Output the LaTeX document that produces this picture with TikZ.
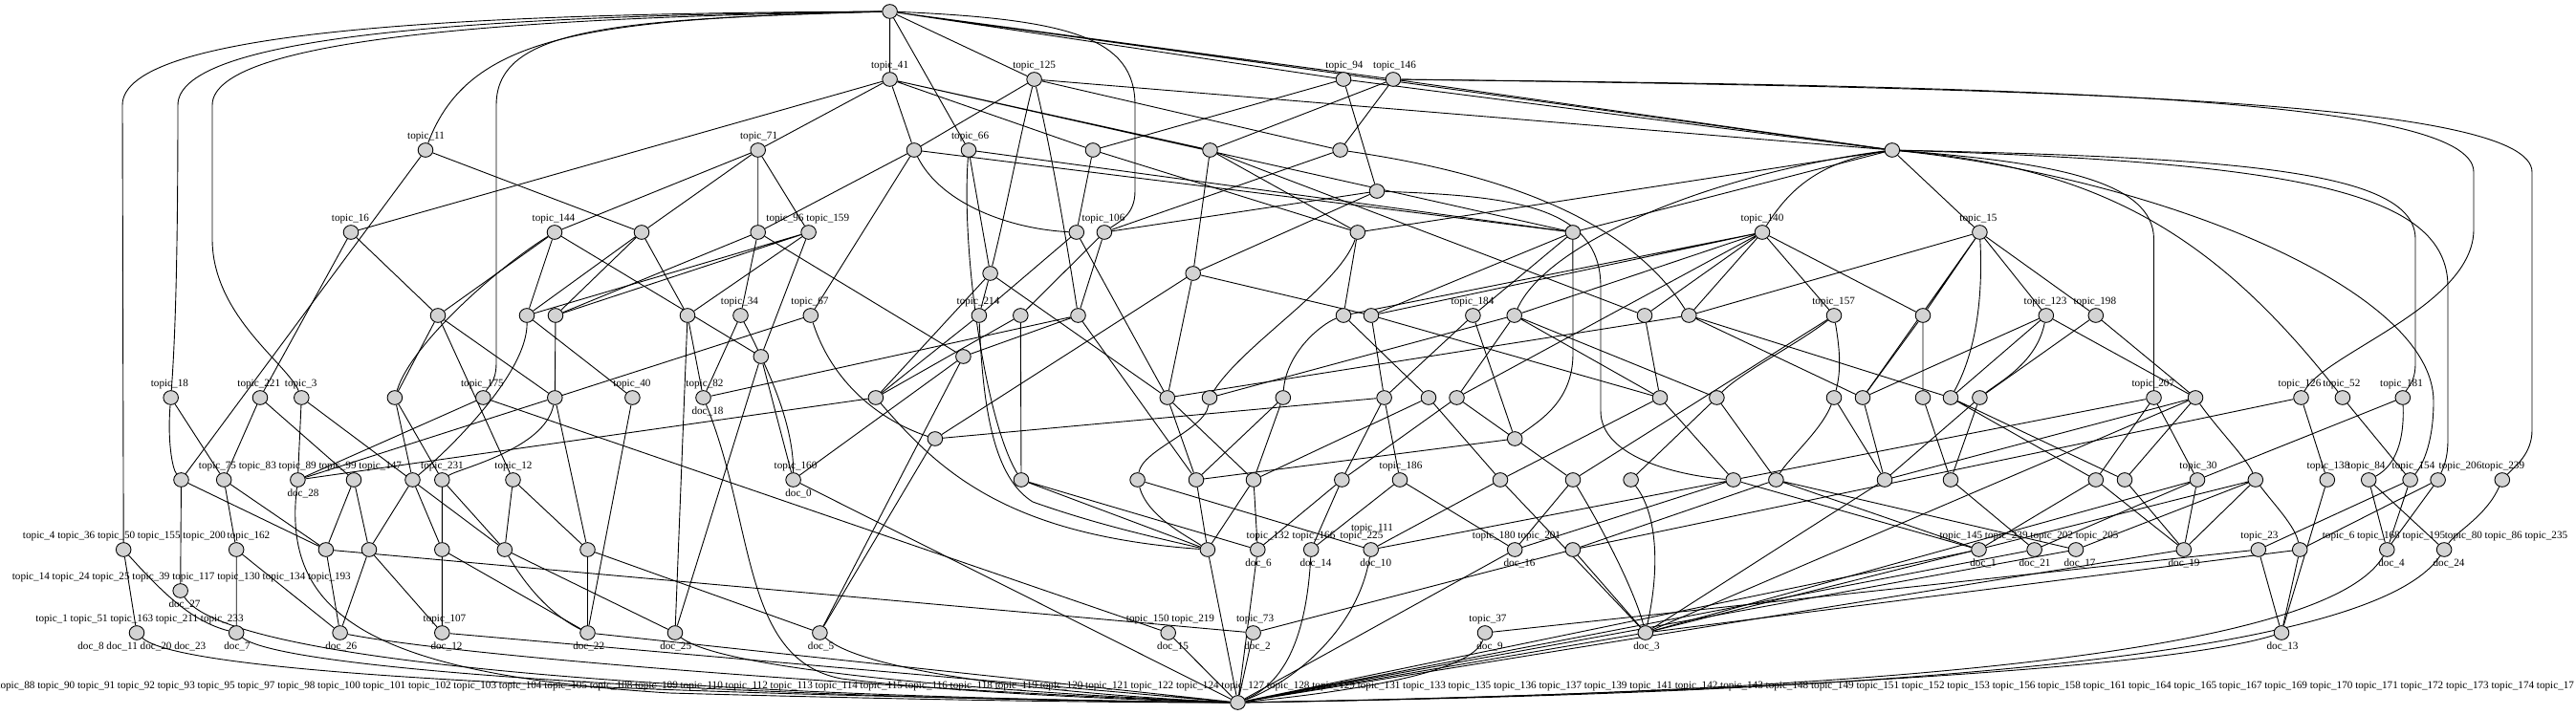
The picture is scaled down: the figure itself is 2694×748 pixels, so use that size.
\documentclass[tikz,border=0pt]{standalone}
\usepackage{fontspec}
\setmainfont{Liberation Serif}
\usetikzlibrary{shapes.geometric}
\pgfdeclarelayer{bg}
\pgfsetlayers{bg,main}
\definecolor{ndfill}{HTML}{D3D3D3}
\newcommand{\lblfont}{\fontsize{5.58pt}{6pt}\selectfont}
\tikzset{
  nd/.style={ellipse, draw=black, line width=0.45pt, fill=ndfill, minimum width=7.8pt, minimum height=7.35pt, inner sep=0pt},
  lab/.style={inner sep=0pt, font=\lblfont, text height=3.9pt, text depth=1.1pt},
  ed/.style={line width=0.45pt, draw=black}
}
\begin{document}
\begin{tikzpicture}[x=0.5pt,y=-0.5pt]
\useasboundingbox (0,0) rectangle (2694,748);
% ---------- nodes ----------
\node[nd] (R) at (930.6,12) {};
\node[nd] (t41) at (930.6,83) {};
\node[nd] (t125) at (1081.6,83) {};
\node[nd] (t94) at (1405,83) {};
\node[nd] (t146) at (1457,83) {};
\node[nd] (t11) at (445,157) {};
\node[nd] (t71) at (792.7,157) {};
\node[nd] (a1) at (956,157) {};
\node[nd] (t66) at (1013,157) {};
\node[nd] (a2) at (1143,157) {};
\node[nd] (a3) at (1265.5,157) {};
\node[nd] (a4) at (1401.6,157) {};
\node[nd] (H) at (1978.8,157) {};
\node[nd] (a5) at (1440,200) {};
\node[nd] (t16) at (367,243) {};
\node[nd] (t144) at (580,243) {};
\node[nd] (b1) at (671,243) {};
\node[nd] (t96) at (792.7,243) {};
\node[nd] (t159) at (845.6,243) {};
\node[nd] (b2) at (1125.8,243) {};
\node[nd] (t106) at (1154.9,243) {};
\node[nd] (b3) at (1419.8,243) {};
\node[nd] (b4) at (1644.9,243) {};
\node[nd] (t140) at (1843,243) {};
\node[nd] (t15) at (2070.4,243) {};
\node[nd] (c1) at (1035.6,286) {};
\node[nd] (c2) at (1247.7,286) {};
\node[nd] (d1) at (458,330) {};
\node[nd] (d2) at (551,330) {};
\node[nd] (d3) at (581,330) {};
\node[nd] (d4) at (719,330) {};
\node[nd] (t34) at (774.5,330) {};
\node[nd] (t67) at (847.8,330) {};
\node[nd] (t214) at (1023.9,330) {};
\node[nd] (d5) at (1067.3,330) {};
\node[nd] (d6) at (1127.5,330) {};
\node[nd] (d7) at (1405,330) {};
\node[nd] (d8) at (1434,330) {};
\node[nd] (t184) at (1540.4,330) {};
\node[nd] (d9) at (1583.7,330) {};
\node[nd] (d10) at (1720,330) {};
\node[nd] (d11) at (1766.3,330) {};
\node[nd] (t157) at (1918,330) {};
\node[nd] (d12) at (2011,330) {};
\node[nd] (t123) at (2139.8,330) {};
\node[nd] (t198) at (2191.8,330) {};
\node[nd] (e1) at (795.8,373) {};
\node[nd] (e2) at (1007.4,373) {};
\node[nd] (t18) at (178.7,416) {};
\node[nd] (t221) at (272,416) {};
\node[nd] (t3) at (315.3,416) {};
\node[nd] (f1) at (412.9,416) {};
\node[nd] (t175) at (505.3,416) {};
\node[nd] (f2) at (580.3,416) {};
\node[nd] (t40) at (661.4,416) {};
\node[nd] (t82) at (735.5,416) {};
\node[nd] (f3) at (915.9,416) {};
\node[nd] (f4) at (1220.8,416) {};
\node[nd] (f5) at (1265,416) {};
\node[nd] (f6) at (1341.8,416) {};
\node[nd] (f7) at (1447.6,416) {};
\node[nd] (f8) at (1494,416) {};
\node[nd] (f9) at (1523.5,416) {};
\node[nd] (f10) at (1736,416) {};
\node[nd] (f11) at (1795.4,416) {};
\node[nd] (f12) at (1918,416) {};
\node[nd] (f13) at (1948,416) {};
\node[nd] (f14) at (2011,416) {};
\node[nd] (f15) at (2040,416) {};
\node[nd] (f16) at (2070.4,416) {};
\node[nd] (t207) at (2252.5,416) {};
\node[nd] (f17) at (2296,416) {};
\node[nd] (t126) at (2406.5,416) {};
\node[nd] (t52) at (2449.9,416) {};
\node[nd] (t181) at (2512.8,416) {};
\node[nd] (g1) at (977.9,459) {};
\node[nd] (g2) at (1584.2,459) {};
\node[nd] (h1) at (189.5,502) {};
\node[nd] (h2) at (234.2,502) {};
\node[nd] (h3) at (311.4,502) {};
\node[nd] (h4) at (370,502) {};
\node[nd] (h5) at (431.5,502) {};
\node[nd] (h6) at (462.3,502) {};
\node[nd] (h7) at (536.5,502) {};
\node[nd] (t160) at (829.6,502) {};
\node[nd] (h8) at (1068,502) {};
\node[nd] (h9) at (1189.6,502) {};
\node[nd] (h10) at (1251,502) {};
\node[nd] (h11) at (1311,502) {};
\node[nd] (h12) at (1403.3,502) {};
\node[nd] (t186) at (1464,502) {};
\node[nd] (h13) at (1569,502) {};
\node[nd] (h14) at (1645,502) {};
\node[nd] (h15) at (1705.6,502) {};
\node[nd] (h16) at (1812.7,502) {};
\node[nd] (h17) at (1857.4,502) {};
\node[nd] (h18) at (1971,502) {};
\node[nd] (h19) at (2040,502) {};
\node[nd] (h20) at (2191.8,502) {};
\node[nd] (h21) at (2222,502) {};
\node[nd] (t30) at (2298,502) {};
\node[nd] (h22) at (2358.8,502) {};
\node[nd] (t138) at (2433.8,502) {};
\node[nd] (h23) at (2477.2,502) {};
\node[nd] (h24) at (2520.6,502) {};
\node[nd] (h25) at (2549.6,502) {};
\node[nd] (h26) at (2616.8,502) {};
\node[nd] (i1) at (129.2,575) {};
\node[nd] (i2) at (247.2,575) {};
\node[nd] (i3) at (340.9,575) {};
\node[nd] (i4) at (386,575) {};
\node[nd] (i5) at (462.3,575) {};
\node[nd] (i6) at (527.8,575) {};
\node[nd] (i7) at (614.5,575) {};
\node[nd] (i8) at (1262.9,575) {};
\node[nd] (doc6) at (1315.3,575) {};
\node[nd] (doc14) at (1371.2,575) {};
\node[nd] (doc10) at (1433.7,575) {};
\node[nd] (doc16) at (1584.2,575) {};
\node[nd] (i9) at (1644.9,575) {};
\node[nd] (doc1) at (2069.5,575) {};
\node[nd] (doc21) at (2127.6,575) {};
\node[nd] (doc17) at (2171,575) {};
\node[nd] (doc19) at (2283.8,575) {};
\node[nd] (i10) at (2361.8,575) {};
\node[nd] (i11) at (2405.2,575) {};
\node[nd] (doc4) at (2496.3,575) {};
\node[nd] (doc24) at (2556.1,575) {};
\node[nd] (doc27) at (188.7,618) {};
\node[nd] (j1) at (143,662) {};
\node[nd] (doc7) at (247.2,662) {};
\node[nd] (doc26) at (355.6,662) {};
\node[nd] (doc12) at (462.3,662) {};
\node[nd] (doc22) at (614.5,662) {};
\node[nd] (doc25) at (706,662) {};
\node[nd] (doc5) at (857.4,662) {};
\node[nd] (doc15) at (1221.7,662) {};
\node[nd] (doc2) at (1310.6,662) {};
\node[nd] (doc9) at (1553,662) {};
\node[nd] (doc3) at (1720.8,662) {};
\node[nd] (doc13) at (2386,662) {};
\node[nd] (S) at (1294.5,735) {};
% ---------- labels ----------
\node[lab] (l1) at (930.6,68.5) {topic\_41};
\node[lab] (l2) at (1081.6,68.5) {topic\_125};
\node[lab] (l3) at (1406,68.5) {topic\_94};
\node[lab] (l4) at (1458.5,68.5) {topic\_146};
\node[lab] (l5) at (445.5,142.5) {topic\_11};
\node[lab] (l6) at (793.6,142.5) {topic\_71};
\node[lab] (l7) at (1014.6,142.5) {topic\_66};
\node[lab] (l8) at (366.5,228.5) {topic\_16};
\node[lab] (l9) at (579,228.5) {topic\_144};
\node[lab] (l10) at (821,228.5) {topic\_96};
\node[lab] (l11) at (865.8,228.5) {topic\_159};
\node[lab] (l12) at (1154,228.5) {topic\_106};
\node[lab] (l13) at (1843,228.5) {topic\_140};
\node[lab] (l14) at (2069,228.5) {topic\_15};
\node[lab] (l15) at (773.5,315.5) {topic\_34};
\node[lab] (l16) at (847,315.5) {topic\_67};
\node[lab] (l17) at (1023,315.5) {topic\_214};
\node[lab] (l18) at (1540,315.5) {topic\_184};
\node[lab] (l19) at (1917.6,315.5) {topic\_157};
\node[lab] (l20) at (2139,315.5) {topic\_123};
\node[lab] (l21) at (2190.8,315.5) {topic\_198};
\node[lab] (l22) at (177.4,401.5) {topic\_18};
\node[lab] (l23) at (270.8,401.5) {topic\_221};
\node[lab] (l24) at (314.7,401.5) {topic\_3};
\node[lab] (l25) at (504.4,401.5) {topic\_175};
\node[lab] (l26) at (661,401.5) {topic\_40};
\node[lab] (l27) at (737,401.5) {topic\_82};
\node[lab] (l28) at (740,431) {doc\_18};
\node[lab] (l29) at (2251.8,401.5) {topic\_207};
\node[lab] (l30) at (2405,401.5) {topic\_126};
\node[lab] (l31) at (2448.8,401.5) {topic\_52};
\node[lab] (l32) at (2511.5,401.5) {topic\_181};
\node[lab] (l33) at (314,487.5) {topic\_75 topic\_83 topic\_89 topic\_99 topic\_147};
\node[lab] (l34) at (317,517) {doc\_28};
\node[lab] (l35) at (462.5,487.5) {topic\_231};
\node[lab] (l36) at (537,487.5) {topic\_12};
\node[lab] (l37) at (832,487.5) {topic\_160};
\node[lab] (l38) at (835,517) {doc\_0};
\node[lab] (l39) at (1465,487.5) {topic\_186};
\node[lab] (l40) at (2299,487.5) {topic\_30};
\node[lab] (l41) at (2435,487.5) {topic\_138};
\node[lab] (l42) at (2475,487.5) {topic\_84};
\node[lab] (l43) at (2524,487.5) {topic\_154};
\node[lab] (l44) at (2573,487.5) {topic\_206};
\node[lab] (l45) at (2617.8,487.5) {topic\_239};
\node[lab] (l46) at (130,560.5) {topic\_4 topic\_36 topic\_50 topic\_155 topic\_200};
\node[lab] (l47) at (260,560.5) {topic\_162};
\node[lab] (l48) at (1326,560.5) {topic\_132};
\node[lab] (l49) at (1316,590) {doc\_6};
\node[lab] (l50) at (1374,560.5) {topic\_166};
\node[lab] (l51) at (1376,590) {doc\_14};
\node[lab] (l52) at (1424,560.5) {topic\_225};
\node[lab] (l53) at (1435,552.5) {topic\_111};
\node[lab] (l54) at (1438.7,590) {doc\_10};
\node[lab] (l55) at (1586,560.5) {topic\_180 topic\_201};
\node[lab] (l56) at (1589,590) {doc\_16};
\node[lab] (l57) at (2122,560.5) {topic\_145 topic\_239 topic\_202 topic\_205};
\node[lab] (l58) at (2074,590) {doc\_1};
\node[lab] (l59) at (2128,590) {doc\_21};
\node[lab] (l60) at (2175,590) {doc\_17};
\node[lab] (l61) at (2284,590) {doc\_19};
\node[lab] (l62) at (2363,560.5) {topic\_23};
\node[lab] (l63) at (2493,560.5) {topic\_6 topic\_168 topic\_195};
\node[lab] (l64) at (2621,560.5) {topic\_80 topic\_86 topic\_235};
\node[lab] (l65) at (2501,590) {doc\_4};
\node[lab] (l66) at (2561,590) {doc\_24};
\node[lab] (l67) at (189.8,603.5) {topic\_14 topic\_24 topic\_25 topic\_39 topic\_117 topic\_130 topic\_134 topic\_193};
\node[lab] (l68) at (193,632.5) {doc\_27};
\node[lab] (l69) at (146,647.5) {topic\_1 topic\_51 topic\_163 topic\_211 topic\_233};
\node[lab] (l70) at (148.3,677) {doc\_8 doc\_11 doc\_20 doc\_23};
\node[lab] (l71) at (248,677) {doc\_7};
\node[lab] (l72) at (356.8,677) {doc\_26};
\node[lab] (l73) at (465,647.5) {topic\_107};
\node[lab] (l74) at (467,677) {doc\_12};
\node[lab] (l75) at (615.7,677) {doc\_22};
\node[lab] (l76) at (706.7,677) {doc\_25};
\node[lab] (l77) at (858.6,677) {doc\_5};
\node[lab] (l78) at (1224,647.5) {topic\_150 topic\_219};
\node[lab] (l79) at (1226.6,677) {doc\_15};
\node[lab] (l80) at (1312.6,647.5) {topic\_73};
\node[lab] (l81) at (1315,677) {doc\_2};
\node[lab] (l82) at (1556,647.5) {topic\_37};
\node[lab] (l83) at (1558,677) {doc\_9};
\node[lab] (l84) at (1722,677) {doc\_3};
\node[lab] (l85) at (2387,677) {doc\_13};
\node[lab, anchor=west] (l86) at (-3,718) {topic\_88 topic\_90 topic\_91 topic\_92 topic\_93 topic\_95 topic\_97 topic\_98 topic\_100 topic\_101 topic\_102 topic\_103 topic\_104 topic\_105 topic\_108 topic\_109 topic\_110 topic\_112 topic\_113 topic\_114 topic\_115 topic\_116 topic\_118 topic\_119 topic\_120 topic\_121 topic\_122 topic\_124 topic\_127 topic\_128 topic\_129 topic\_131 topic\_133 topic\_135 topic\_136 topic\_137 topic\_139 topic\_141 topic\_142 topic\_143 topic\_148 topic\_149 topic\_151 topic\_152 topic\_153 topic\_156 topic\_158 topic\_161 topic\_164 topic\_165 topic\_167 topic\_169 topic\_170 topic\_171 topic\_172 topic\_173 topic\_174 topic\_17};
% ---------- edges ----------
\begin{pgfonlayer}{bg}
\draw[ed] (R) -- (t41) (R) -- (t66) (R) -- (t125) (R) -- (t94) (R) -- (t146) (R) -- (H);
\draw[ed] (R) .. controls (500,14) and (128,30) .. (128,110) -- (i1);
\draw[ed] (R) .. controls (520,16) and (186,35) .. (186,110) .. controls (186,300) and (182,370) .. (t18);
\draw[ed] (R) .. controls (560,18) and (222,38) .. (222,110) -- (222,250) .. controls (222,330) and (300,380) .. (t3);
\draw[ed] (R) .. controls (620,20) and (490,35) .. (t11);
\draw[ed] (R) .. controls (640,20) and (519,30) .. (519,110) -- (519,380) .. controls (519,400) and (510,405) .. (t175);
\draw[ed] (R) .. controls (1120,20) and (1187,40) .. (1187,110) -- (1187,200) .. controls (1187,225) and (1170,232) .. (t106);
% level 1
\draw[ed] (t41) -- (t16) (t41) -- (t71) (t41) -- (a1) (t41) -- (a2) (t41) -- (a3) (t41) -- (b4);
\draw[ed] (t125) -- (a1) (t125) -- (a4) (t125) -- (H);
\draw[ed] (t125) .. controls (1065,150) and (1050,230) .. (c1);
\draw[ed] (t125) .. controls (1100,160) and (1115,250) .. (d6);
\draw[ed] (t94) -- (a2) (t94) -- (a5) (t94) -- (H);
\draw[ed] (t146) -- (a3) (t146) -- (a4) (t146) -- (H);
\draw[ed] (t146) .. controls (2100,90) and (2587,100) .. (2587,180) -- (2587,240) .. controls (2587,320) and (2430,370) .. (t126);
\draw[ed] (t146) .. controls (2150,92) and (2648,105) .. (2648,180) -- (2648,450) .. controls (2648,475) and (2630,488) .. (h26);
% level 2
\draw[ed] (t11) -- (b1) (t11) -- (h1);
\draw[ed] (t71) -- (t144) (t71) -- (b1) (t71) -- (t96) (t71) -- (t159);
\draw[ed] (a1) -- (t96) (a1) -- (t67) (a1) -- (b4);
\draw[ed] (a1) .. controls (985,215) and (1060,240) .. (b2);
\draw[ed] (t66) -- (c1) (t66) -- (b4);
\draw[ed] (t66) .. controls (1005,260) and (1030,440) .. (h8);
\draw[ed] (a2) -- (b2) (a2) -- (b3);
\draw[ed] (a3) -- (c2) (a3) -- (b3) (a3) -- (d10);
\draw[ed] (a4) -- (t106);
\draw[ed] (a4) .. controls (1560,180) and (1700,225) .. (d11);
\draw[ed] (a5) -- (t106) (a5) -- (c2);
\draw[ed] (a5) .. controls (1580,205) and (1674,215) .. (1674,300) -- (1674,430) .. controls (1674,480) and (1760,498) .. (h16);
\draw[ed] (H) -- (b3) (H) -- (b4) (H) -- (t15);
\draw[ed] (H) .. controls (1800,180) and (1620,250) .. (d9);
\draw[ed] (H) .. controls (1900,170) and (1870,200) .. (t140);
\draw[ed] (H) .. controls (2150,170) and (2252,190) .. (2252.5,250) -- (t207);
\draw[ed] (H) .. controls (2200,175) and (2320,250) .. (t52);
\draw[ed] (H) .. controls (2250,185) and (2545,300) .. (2545,420) .. controls (2545,460) and (2535,485) .. (h24);
\draw[ed] (H) .. controls (2350,165) and (2526,180) .. (2526,250) -- (2526,380) .. controls (2526,400) and (2518,405) .. (t181);
\draw[ed] (H) .. controls (2400,170) and (2560,200) .. (2560,300) -- (2560,460) .. controls (2560,480) and (2555,490) .. (h25);
% level 3
\draw[ed] (t16) -- (t221) (t16) -- (d1);
\draw[ed] (t144) -- (d1) (t144) -- (d2) (t144) -- (e1);
\draw[ed] (t144) .. controls (520,280) and (430,360) .. (f1);
\draw[ed] (b1) -- (d3) (b1) -- (d2) (b1) -- (d4);
\draw[ed] (t96) -- (t34) (t96) -- (e2) (t96) -- (d3);
\draw[ed] (t159) -- (d3) (t159) -- (d2) (t159) -- (d4) (t159) -- (e1);
\draw[ed] (b2) -- (f4) (b2) -- (t214);
\draw[ed] (t106) -- (d5) (t106) -- (d6);
\draw[ed] (b3) -- (d7);
\draw[ed] (b3) .. controls (1400,300) and (1300,360) .. (f5);
\draw[ed] (b4) -- (d8) (b4) -- (t184);
\draw[ed] (b4) -- (1645,370) .. controls (1645,420) and (1610,440) .. (g2);
\draw[ed] (t140) -- (d7) (t140) -- (d8) (t140) -- (d9) (t140) -- (d10) (t140) -- (d11) (t140) -- (t157) (t140) -- (f9) (t140) -- (d12);
\draw[ed] (t15) -- (t123) (t15) -- (t198) (t15) -- (d11) (t15) -- (d12) (t15) -- (f13);
\draw[ed] (t15) .. controls (2075,330) and (2060,380) .. (f15);
\draw[ed] (c1) -- (f3) (c1) -- (f4) (c1) -- (t214);
\draw[ed] (c2) -- (g1) (c2) -- (f4) (c2) -- (d8);
% level 4
\draw[ed] (d1) -- (f1) (d1) -- (h7) (d1) -- (f2);
\draw[ed] (d2) .. controls (552,390) and (470,470) .. (h5);
\draw[ed] (d2) -- (t40) (d3) -- (f2);
\draw[ed] (d4) -- (t82) (d4) -- (doc25);
\draw[ed] (t34) -- (t82);
\draw[ed] (t34) .. controls (800,380) and (830,440) .. (t160);
\draw[ed] (t67) -- (f2);
\draw[ed] (t67) .. controls (870,400) and (920,440) .. (g1);
\draw[ed] (t214) -- (f3);
\draw[ed] (t214) .. controls (1028,430) and (1040,500) .. (1080,525) .. controls (1150,550) and (1220,565) .. (i8);
\draw[ed] (d5) -- (h8) (d5) -- (f3);
\draw[ed] (d6) -- (e2) (d6) -- (t82) (d6) -- (h10);
\draw[ed] (e1) -- (t160) (e1) -- (doc25);
\draw[ed] (e2) -- (t160) (e2) -- (doc5);
\draw[ed] (d7) -- (f8);
\draw[ed] (d8) -- (f7) (d8) -- (f10);
\draw[ed] (t184) -- (f7) (t184) -- (g2);
\draw[ed] (d9) -- (f9) (d9) -- (f10) (d9) -- (f11);
\draw[ed] (d10) -- (f10);
\draw[ed] (d11) -- (f4) (d11) -- (f13) (d11) -- (f15);
\draw[ed] (t157) .. controls (1925,370) and (1925,390) .. (f12);
\draw[ed] (t157) .. controls (1880,360) and (1820,390) .. (f11);
\draw[ed] (t157) -- (h14);
\draw[ed] (d12) -- (f13) (d12) -- (f14);
\draw[ed] (t123) -- (f15) (t123) -- (f17) (t123) -- (f13);
\draw[ed] (t123) .. controls (2130,380) and (2090,400) .. (f16);
\draw[ed] (t198) -- (f16) (t198) -- (f17);
% level 5
\draw[ed] (t18) .. controls (175,460) and (180,490) .. (h1);
\draw[ed] (t18) -- (h2) (t221) -- (h2) (t221) -- (h4) (t3) -- (h3) (t3) -- (i6);
\draw[ed] (f1) -- (h5) (f1) -- (h6);
\draw[ed] (t175) -- (h3) (t175) -- (doc15);
\draw[ed] (f2) -- (h3) (f2) -- (i7);
\draw[ed] (f2) .. controls (570,470) and (480,490) .. (h6);
\draw[ed] (t40) -- (doc22);
\draw[ed] (f3) -- (h3);
\draw[ed] (f3) .. controls (980,490) and (1050,560) .. (i8);
\draw[ed] (g1) -- (doc5);
\draw[ed] (f4) -- (h10) (f4) -- (h11);
\draw[ed] (f5) -- (d9);
\draw[ed] (f5) .. controls (1260,450) and (1195,470) .. (h9);
\draw[ed] (f6) -- (h10) (f6) -- (h11);
\draw[ed] (f6) .. controls (1345,370) and (1380,340) .. (d7);
\draw[ed] (f7) -- (t186) (f7) -- (h12) (f7) -- (g1);
\draw[ed] (f8) -- (h13) (f8) -- (h11);
\draw[ed] (f9) -- (h12) (f9) -- (h14);
\draw[ed] (g2) -- (h10);
\draw[ed] (f10) -- (h13) (f10) -- (h16);
\draw[ed] (f11) -- (h15) (f11) -- (h17);
\draw[ed] (f12) -- (h18);
\draw[ed] (f12) .. controls (1905,450) and (1870,480) .. (h17);
\draw[ed] (f13) -- (h18) (f14) -- (h19);
\draw[ed] (f15) -- (h20) (f15) -- (h21);
\draw[ed] (f16) -- (h19) (f16) -- (h18);
\draw[ed] (t207) -- (t30) (t207) -- (h20) (t207) -- (h16);
\draw[ed] (f17) -- (h21) (f17) -- (h18) (f17) -- (doc3);
\draw[ed] (f17) .. controls (2320,450) and (2350,480) .. (h22);
\draw[ed] (t126) -- (t138) (t126) -- (i9);
\draw[ed] (t52) -- (h24);
\draw[ed] (t181) -- (t30);
\draw[ed] (t181) .. controls (2515,470) and (2500,490) .. (h23);
% level 6
\draw[ed] (h1) -- (doc27) (h1) -- (i3) (h2) -- (i2) (h2) -- (i3);
\draw[ed] (h4) -- (i3) (h4) -- (i4) (h5) -- (i4) (h5) -- (i5);
\draw[ed] (h6) -- (i5) (h6) -- (i6) (h7) -- (i6) (h7) -- (i7);
\draw[ed] (h8) -- (doc6) (h8) -- (i8);
\draw[ed] (h9) .. controls (1200,540) and (1240,560) .. (i8);
\draw[ed] (h9) -- (doc10) (h10) -- (i8) (h11) -- (i8) (h11) -- (doc6);
\draw[ed] (h12) -- (doc14) (h12) -- (doc6);
\draw[ed] (t186) -- (doc14) (t186) -- (doc16);
\draw[ed] (h13) -- (doc10) (h13) -- (doc3);
\draw[ed] (h14) -- (doc16);
\draw[ed] (h14) .. controls (1680,560) and (1710,620) .. (doc3);
\draw[ed] (h15) .. controls (1735,540) and (1735,600) .. (doc3);
\draw[ed] (h16) -- (doc1) (h16) -- (doc10) (h16) -- (doc16);
\draw[ed] (h17) -- (doc1) (h17) -- (i9) (h17) -- (doc17);
\draw[ed] (h18) -- (doc3);
\draw[ed] (h19) -- (doc21);
\draw[ed] (h20) -- (doc1) (h20) -- (doc19) (h21) -- (doc19);
\draw[ed] (t30) -- (doc21) (t30) -- (doc19) (t30) -- (doc3);
\draw[ed] (h22) -- (doc17) (h22) -- (doc19) (h22) -- (doc3);
\draw[ed] (h22) .. controls (2380,530) and (2400,550) .. (i11);
\draw[ed] (t138) -- (doc13);
\draw[ed] (h23) -- (doc4) (h23) -- (doc24) (h24) -- (doc4) (h24) -- (i10) (h25) -- (i11) (h25) -- (doc4);
\draw[ed] (h26) .. controls (2600,540) and (2570,555) .. (doc24);
% level 7
\draw[ed] (i1) -- (j1);
\draw[ed] (i1) .. controls (170,620) and (200,650) .. (doc7);
\draw[ed] (i2) -- (doc7) (i2) -- (doc26) (i3) -- (doc26) (i3) -- (doc2);
\draw[ed] (i4) -- (doc26) (i4) -- (doc12) (i5) -- (doc12) (i5) -- (doc22);
\draw[ed] (i6) .. controls (560,630) and (590,650) .. (doc22);
\draw[ed] (i6) -- (doc25) (i7) -- (doc22) (i7) -- (doc5);
\draw[ed] (i9) -- (doc3) (i9) -- (doc2);
\draw[ed] (i10) -- (doc13) (i10) -- (doc9) (i11) -- (doc13) (i11) -- (doc3);
% to sink
\draw[ed] (j1) .. controls (200,715) and (900,730) .. (S);
\draw[ed] (doc27) .. controls (240,700) and (800,730) .. (S);
\draw[ed] (doc7) .. controls (300,705) and (850,732) .. (S);
\draw[ed] (h3) .. controls (295,640) and (380,705) .. (700,725) .. controls (950,732) and (1150,735) .. (S);
\draw[ed] (doc26) .. controls (500,690) and (1000,725) .. (S);
\draw[ed] (doc12) -- (S) (doc22) -- (S);
\draw[ed] (doc25) .. controls (760,705) and (1100,727) .. (S);
\draw[ed] (doc5) .. controls (905,705) and (1120,727) .. (S);
\draw[ed] (t82) .. controls (790,550) and (775,690) .. (880,710) .. controls (1000,725) and (1200,733) .. (S);
\draw[ed] (t160) -- (S) (i8) -- (S) (doc6) -- (S) (doc15) -- (S) (doc2) -- (S);
\draw[ed] (doc14) .. controls (1365,690) and (1330,720) .. (S);
\draw[ed] (doc10) .. controls (1420,660) and (1350,715) .. (S);
\draw[ed] (doc16) -- (S);
\draw[ed] (doc9) .. controls (1540,705) and (1400,725) .. (S);
\draw[ed] (doc3) -- (S);
\draw[ed] (doc13) .. controls (2250,705) and (1700,728) .. (S);
\draw[ed] (doc4) .. controls (2430,690) and (1900,725) .. (S);
\draw[ed] (doc24) .. controls (2480,690) and (1950,725) .. (S);
\draw[ed] (doc19) -- (S) (doc1) -- (S) (doc21) -- (S) (doc17) -- (S);
\end{pgfonlayer}
\end{tikzpicture}
\end{document}
